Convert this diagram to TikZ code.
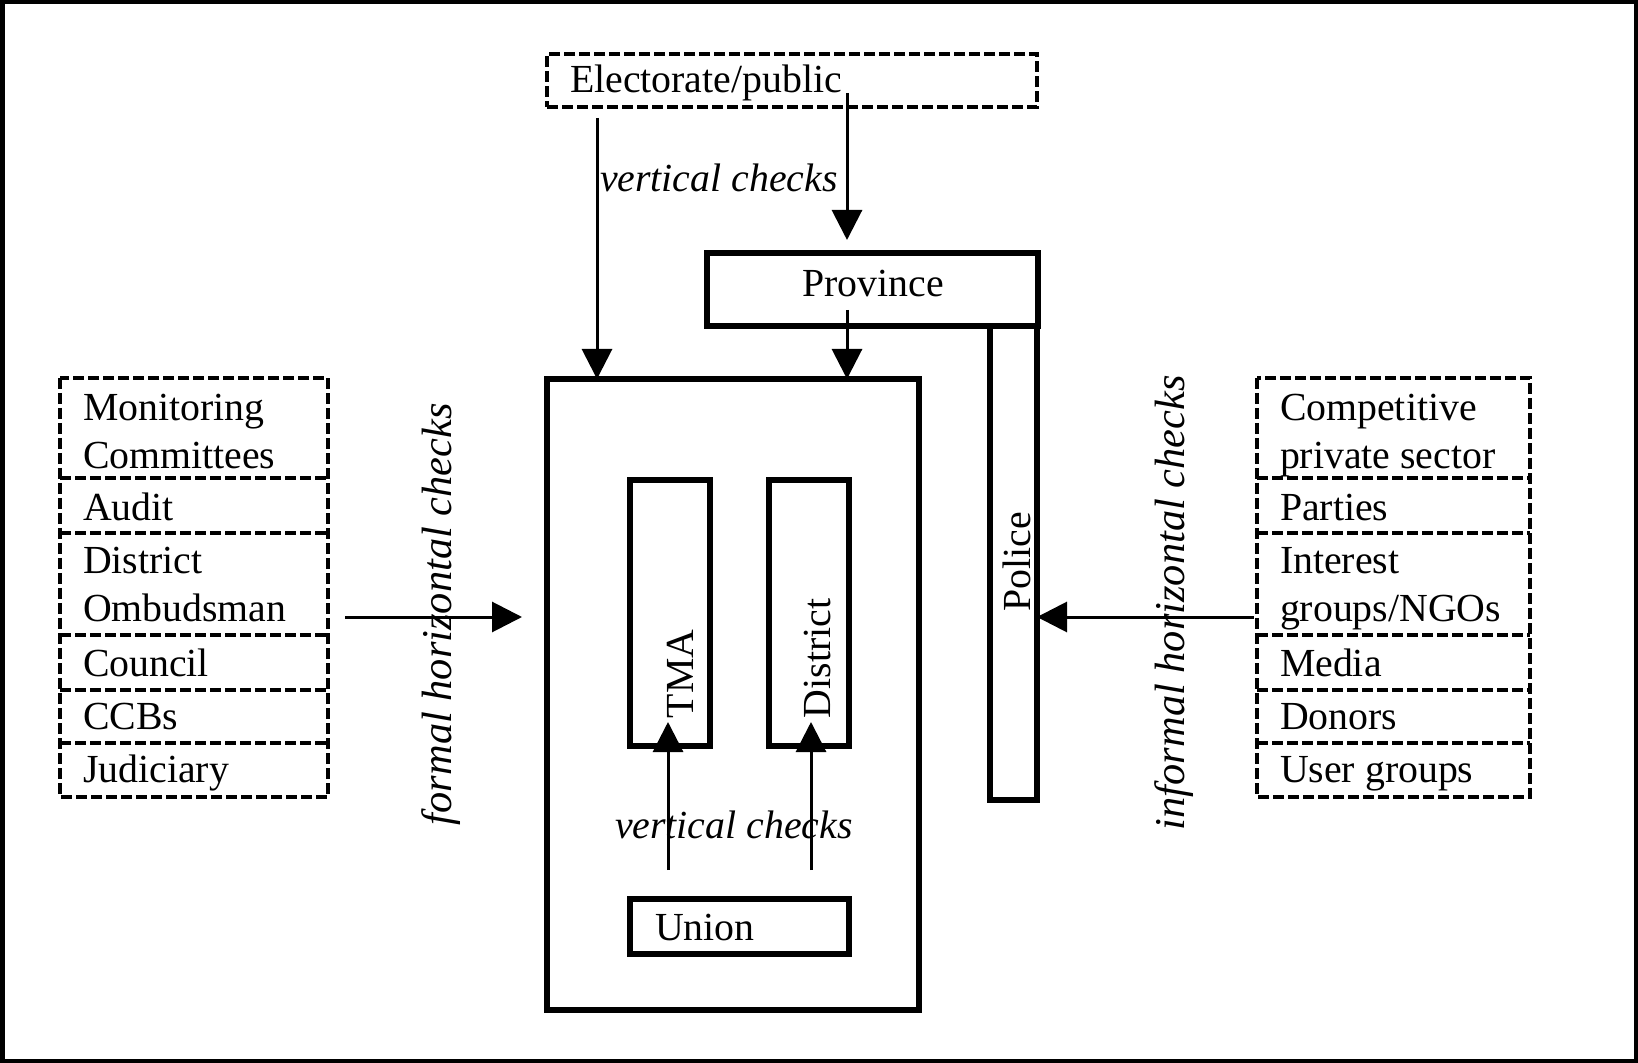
\documentclass[tikz,border=0pt]{standalone}
\usepackage{fontspec}
\setmainfont{Liberation Serif}
\usetikzlibrary{arrows.meta}
\newcommand{\twolines}[2]{\begin{tabular}[t]{@{}l@{}}#1\\#2\end{tabular}}
\begin{document}
\begin{tikzpicture}[x=0.5pt,y=-0.5pt,
  every node/.style={inner sep=0pt, outer sep=0pt, font=\fontsize{19.9}{24}\selectfont},
  solidbox/.style={draw, line width=2.7pt, anchor=north west},
  cell/.style={anchor=north west},
  dline/.style={line width=1.9pt, dash pattern=on 5.5pt off 2pt},
  lbl/.style={font=\fontsize{19.9}{24}\selectfont\itshape},
  rlbl/.style={font=\fontsize{21.2}{24}\selectfont\itshape},
  txt/.style={anchor=base west},
  arr/.style={line width=1.5pt, -{Triangle[length=15pt,width=15pt]}},
]
\useasboundingbox (0,0) rectangle (1638,1063);
\draw[line width=2.25pt] (2.25,2.25) rectangle (1635.75,1060.75);

% Electorate
\node[cell, draw, dline, minimum width=245pt, minimum height=26.5pt] (elec) at (547,54) {};
\node[txt] (elect) at (570,93) {Electorate/public};

% Province and Police
\node[solidbox, minimum width=165.5pt, minimum height=36.5pt] (prov) at (707,253) {};
\node[anchor=base] (provt) at (873,297) {Province};
\node[solidbox, minimum width=23.5pt, minimum height=237pt] (police) at (990,326) {};
\node[anchor=base, rotate=90] (policet) at (1030,562) {Police};

% Big box
\node[solidbox, minimum width=186pt, minimum height=315.5pt] (big) at (547,379) {};
\node[solidbox, minimum width=40pt, minimum height=133pt] (tma) at (630,480) {};
\node[txt, rotate=90] (tmat) at (693,718) {TMA};
\node[solidbox, minimum width=40pt, minimum height=133pt] (dist) at (769,480) {};
\node[txt, rotate=90] (distt) at (830,718) {District};
\node[solidbox, minimum width=109.5pt, minimum height=27.5pt] (union) at (630,899) {};
\node[txt] (uniont) at (655,940) {Union};

% Left stack
\node[cell, minimum width=134pt, minimum height=50pt] (L1) at (60,378) {};
\node[cell, minimum width=134pt, minimum height=27.5pt] (L2) at (60,478) {};
\node[cell, minimum width=134pt, minimum height=51pt] (L3) at (60,533) {};
\node[cell, minimum width=134pt, minimum height=27.5pt] (L4) at (60,635) {};
\node[cell, minimum width=134pt, minimum height=26.5pt] (L5) at (60,690) {};
\node[cell, minimum width=134pt, minimum height=27pt] (L6) at (60,743) {};
\draw[dline] (L1.north west) rectangle (L6.south east);
\foreach \c in {L1,L2,L3,L4,L5} \draw[dline] (\c.south west) -- (\c.south east);
\node[txt] (tL1) at (83,421) {\twolines{Monitoring}{Committees}};
\node[txt] (tL2) at (83,521) {Audit};
\node[txt] (tL3) at (83,574) {\twolines{District}{Ombudsman}};
\node[txt] (tL4) at (83,676) {Council};
\node[txt] (tL5) at (83,729) {CCBs};
\node[txt] (tL6) at (83,782) {Judiciary};

% Right stack
\node[cell, minimum width=136.5pt, minimum height=50pt] (R1) at (1257,378) {};
\node[cell, minimum width=136.5pt, minimum height=27.5pt] (R2) at (1257,478) {};
\node[cell, minimum width=136.5pt, minimum height=51pt] (R3) at (1257,533) {};
\node[cell, minimum width=136.5pt, minimum height=27.5pt] (R4) at (1257,635) {};
\node[cell, minimum width=136.5pt, minimum height=26.5pt] (R5) at (1257,690) {};
\node[cell, minimum width=136.5pt, minimum height=27pt] (R6) at (1257,743) {};
\draw[dline] (R1.north west) rectangle (R6.south east);
\foreach \c in {R1,R2,R3,R4,R5} \draw[dline] (\c.south west) -- (\c.south east);
\node[txt] (tR1) at (1280,421) {\twolines{Competitive}{private sector}};
\node[txt] (tR2) at (1280,521) {Parties};
\node[txt] (tR3) at (1280,574) {\twolines{Interest}{groups/NGOs}};
\node[txt] (tR4) at (1280,676) {Media};
\node[txt] (tR5) at (1280,729) {Donors};
\node[txt] (tR6) at (1280,782) {User groups};

% Labels
\node[txt, lbl] (vc1) at (600,192) {vertical checks};
\node[txt, lbl] (vc2) at (615,838) {vertical checks};
\node[txt, rlbl, rotate=90] (fhc) at (451,825) {formal horizontal checks};
\node[txt, rlbl, rotate=90] (ihc) at (1184,830) {informal horizontal checks};

% Connectors
\coordinate (e1) at (597,118);
\coordinate (e2) at (847,93);
\coordinate (p1) at (847,310);
\coordinate (u1) at (668,870);
\coordinate (u2) at (811,870);
\coordinate (l1) at (345,617);
\coordinate (r1) at (1254,617);
\draw[arr] (e1) -- (e1 |- big.north);
\draw[arr, shorten >=6.5pt] (e2) -- (e2 |- prov.north);
\draw[arr] (p1) -- (p1 |- big.north);
\draw[arr, shorten >=-12pt] (u1) -- (u1 |- tma.south);
\draw[arr, shorten >=-12pt] (u2) -- (u2 |- dist.south);
\draw[arr, shorten >=12.5pt] (l1) -- (l1 -| big.west);
\draw[arr] (r1) -- (r1 -| police.east);
\end{tikzpicture}
\end{document}
